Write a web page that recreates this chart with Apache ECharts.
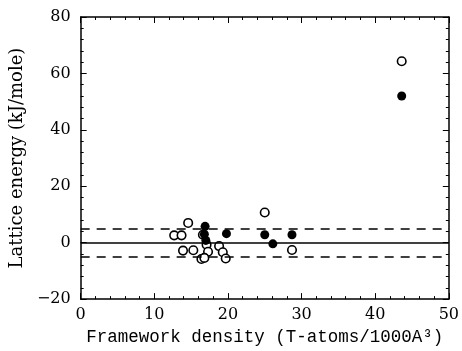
<!DOCTYPE html>
<html><head><meta charset="utf-8">
<script src="https://cdn.jsdelivr.net/npm/echarts@6/dist/echarts.min.js"></script>
<style>html,body{margin:0;padding:0;background:#fff}#c{width:462px;height:351px}</style>
</head><body><div id="c"></div>
<script>
const openPoints = [[43.6,64.3],[25.0,10.7],[14.6,7.0],[12.7,2.6],[13.7,2.6],[13.9,-2.8],[15.3,-2.7],[16.6,2.8],[17.1,-0.7],[17.3,-3.2],[16.4,-5.8],[16.8,-5.4],[18.8,-1.2],[19.3,-3.4],[19.7,-5.6],[28.7,-2.6]];
const filledPoints = [[43.6,52.0],[16.9,5.8],[16.8,3.0],[17.0,0.8],[19.8,3.2],[25.0,2.8],[26.1,-0.4],[28.7,2.8]];
const refLines = [0];
const bandLines = [5,-5];
const xTicks = [0,10,20,30,40,50];
const yTicks = [-20,0,20,40,60,80];

const serif = '"DejaVu Serif", "Liberation Serif", serif';
const baseAxis = {
  axisLine:{show:true,onZero:false,lineStyle:{color:'#000',width:1.5}},
  axisTick:{show:true,inside:true,length:6,lineStyle:{color:'#000'}},
  minorTick:{show:true,splitNumber:5,length:3,lineStyle:{color:'#000'}},
  splitLine:{show:false}
};
const chart = echarts.init(document.getElementById('c'));
chart.setOption({
  animation:false,
  backgroundColor:'#fff',
  grid:{left:79,right:13,top:17,bottom:51},
  xAxis:[
    Object.assign({type:'value',min:xTicks[0],max:xTicks[xTicks.length-1],interval:10,position:'bottom',
      name:'Framework density (T-atoms/1000A\u00b3)',nameLocation:'middle',nameGap:23,
      nameTextStyle:{fontFamily:'"Liberation Mono", "DejaVu Sans Mono", monospace',fontSize:17.5,color:'#000'},
      axisLabel:{fontFamily:serif,fontSize:16,color:'#000',margin:8}},baseAxis),
    Object.assign({type:'value',min:0,max:50,interval:10,position:'top',axisLabel:{show:false}},baseAxis)
  ],
  yAxis:[
    Object.assign({type:'value',min:yTicks[0],max:yTicks[yTicks.length-1],interval:20,position:'left',
      name:'Lattice energy (kJ/mole)',nameLocation:'middle',nameGap:43,nameRotate:90,
      nameTextStyle:{fontFamily:serif,fontSize:18,color:'#000'},
      axisLabel:{fontFamily:serif,fontSize:16,color:'#000',margin:10,
        formatter:v=>v<0?'\u2212'+Math.abs(v):String(v)}},baseAxis),
    Object.assign({type:'value',min:-20,max:80,interval:20,position:'right',axisLabel:{show:false}},baseAxis)
  ],
  series:[
    {type:'scatter',data:openPoints,symbol:'circle',symbolSize:8.5,
      itemStyle:{color:'#fff',borderColor:'#000',borderWidth:1.6,opacity:1},z:3,
      markLine:{silent:true,symbol:'none',label:{show:false},
        data:[
          ...refLines.map(v=>({yAxis:v,lineStyle:{type:'solid',color:'#000',width:1.6}})),
          ...bandLines.map(v=>({yAxis:v,lineStyle:{type:[9,7],color:'#000',width:1.6}}))
        ]}},
    {type:'scatter',data:filledPoints,symbol:'circle',symbolSize:9,
      itemStyle:{color:'#000',borderColor:'#000',borderWidth:0,opacity:1},z:4}
  ]
});
</script></body></html>
